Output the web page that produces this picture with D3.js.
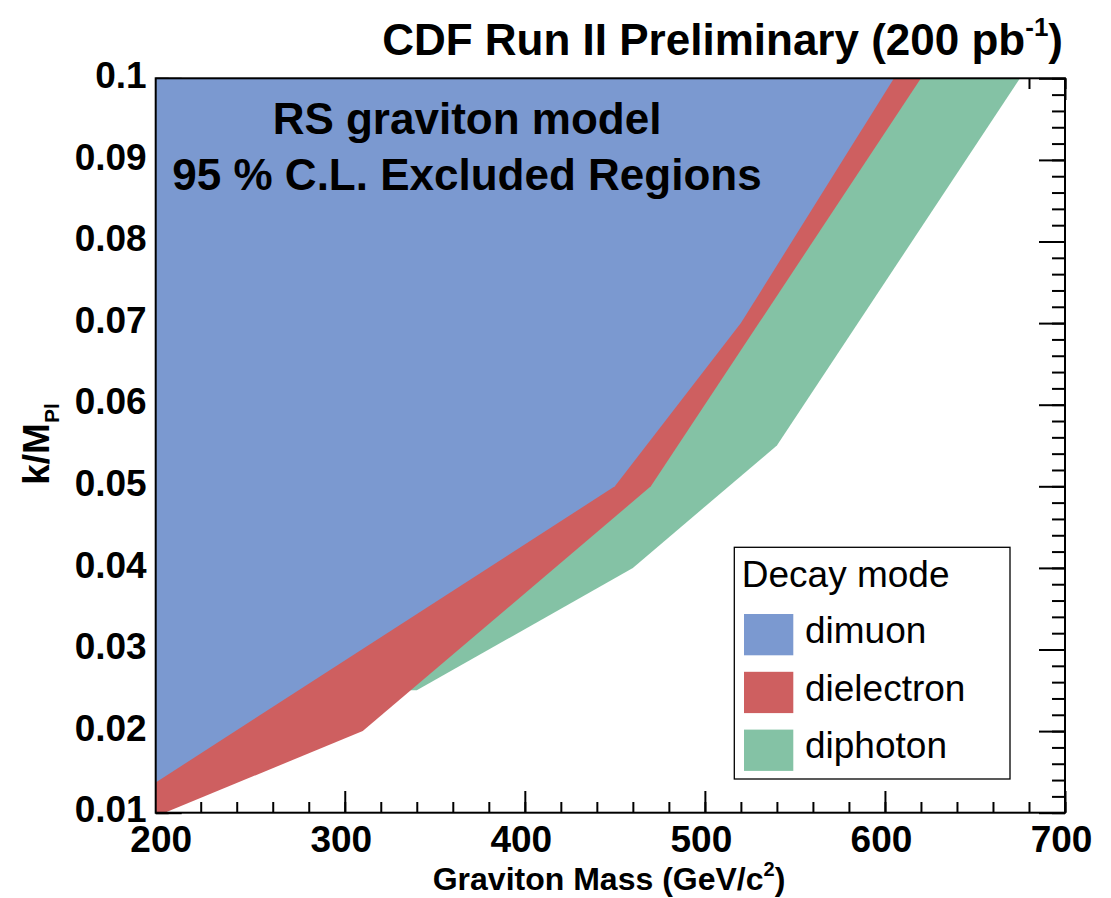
<!DOCTYPE html>
<html>
<head>
<meta charset="utf-8">
<script src="https://cdn.jsdelivr.net/npm/d3@7"></script>
<style>
  body { margin: 0; background: #fff; }
  svg { display: block; }
  text { font-family: "Liberation Sans", Arial, Helvetica, sans-serif; fill: #000; }
</style>
</head>
<body>
<svg id="chart" width="1111" height="898"></svg>
<script>
// Axis ranges and tick labels
const massRange = [195, 700];
const kRange = [0.01, 0.1];
const massTicks = [200, 300, 400, 500, 600, 700];
const massMinorTicks = d3.range(10, 36).map(i => i * 20);          // 200 ... 700 step 20
const kTicks = [0.01, 0.02, 0.03, 0.04, 0.05, 0.06, 0.07, 0.08, 0.09, 0.1];
const kTickLabels = ["0.01", "0.02", "0.03", "0.04", "0.05", "0.06", "0.07", "0.08", "0.09", "0.1"];
const kMinorTicks = d3.range(5, 51).map(i => +(i * 0.002).toFixed(3)); // 0.01 ... 0.1 step 0.002

// 95% C.L. exclusion contours (graviton mass in GeV/c^2, coupling k/M_Pl)
const seriesNames = ["dimuon", "dielectron", "diphoton"];
const seriesColors = ["#7b99d0", "#ce5f60", "#84c2a5"];
const dimuonMass = [195, 450, 520, 605];
const dimuonK = [0.0137, 0.05, 0.07, 0.1];
const dielectronMass = [200, 310, 470, 530, 620];
const dielectronK = [0.01, 0.02, 0.05, 0.07, 0.1];
const diphotonMass = [340, 460, 540, 675];
const diphotonK = [0.025, 0.04, 0.055, 0.1];

const contours = [
  { name: seriesNames[0], color: seriesColors[0], mass: dimuonMass, k: dimuonK },
  { name: seriesNames[1], color: seriesColors[1], mass: dielectronMass, k: dielectronK },
  { name: seriesNames[2], color: seriesColors[2], mass: diphotonMass, k: diphotonK }
];

const frame = { left: 155.7, right: 1065, top: 78.3, bottom: 812.7 };
const svg = d3.select("#chart");

const x = d3.scaleLinear().domain(massRange).range([frame.left, frame.right]);
const y = d3.scaleLinear().domain(kRange).range([frame.bottom, frame.top]);

const FONT = '"Liberation Sans", Arial, Helvetica, sans-serif';

// ---- ticks (drawn first, fills cover them where the regions lie) ----
function styleAxis(g) {
  g.select(".domain").remove();
  g.selectAll(".tick line").attr("stroke", "#000").attr("stroke-width", 2);
}

// bottom
svg.append("g").attr("transform", `translate(0,${frame.bottom})`)
  .call(d3.axisBottom(x).tickValues(massMinorTicks).tickSize(-10.7).tickFormat(""))
  .call(styleAxis);
const xAxisG = svg.append("g").attr("transform", `translate(0,${frame.bottom})`)
  .call(d3.axisBottom(x).tickValues(massTicks).tickSize(-21.7).tickPadding(13.5).tickFormat(d3.format("d")))
  .call(styleAxis);
xAxisG.selectAll(".tick text")
  .attr("x", -4)
  .style("font-family", FONT).style("font-weight", "bold").style("font-size", "37px");

// top
svg.append("g").attr("transform", `translate(0,${frame.top})`)
  .call(d3.axisTop(x).tickValues(massMinorTicks).tickSize(-10.7).tickFormat(""))
  .call(styleAxis);
svg.append("g").attr("transform", `translate(0,${frame.top})`)
  .call(d3.axisTop(x).tickValues(massTicks).tickSize(-21.7).tickFormat(""))
  .call(styleAxis);

// left
svg.append("g").attr("transform", `translate(${frame.left},0)`)
  .call(d3.axisLeft(y).tickValues(kMinorTicks).tickSize(-13).tickFormat(""))
  .call(styleAxis);
const yAxisG = svg.append("g").attr("transform", `translate(${frame.left},0)`)
  .call(d3.axisLeft(y).tickValues(kTicks).tickSize(-26).tickPadding(9)
    .tickFormat((d, i) => kTickLabels[i]))
  .call(styleAxis);
yAxisG.selectAll(".tick text")
  .attr("dy", "0.25em")
  .style("font-family", FONT).style("font-weight", "bold").style("font-size", "37px");

// right
svg.append("g").attr("transform", `translate(${frame.right},0)`)
  .call(d3.axisRight(y).tickValues(kMinorTicks).tickSize(-13).tickFormat(""))
  .call(styleAxis);
svg.append("g").attr("transform", `translate(${frame.right},0)`)
  .call(d3.axisRight(y).tickValues(kTicks).tickSize(-26).tickFormat(""))
  .call(styleAxis);

// ---- excluded regions ----
svg.append("clipPath").attr("id", "frameClip")
  .append("rect")
  .attr("x", frame.left).attr("y", frame.top)
  .attr("width", frame.right - frame.left).attr("height", frame.bottom - frame.top);

const area = d3.line().x(d => x(d[0])).y(d => y(d[1]));

// each contour is closed through the top-left corner of the frame
const regionG = svg.append("g").attr("clip-path", "url(#frameClip)");
contours.slice().reverse().forEach(c => {
  const pts = c.mass.map((m, i) => [m, c.k[i]]);
  pts.push([massRange[0], kRange[1]]);
  pts.push([massRange[0], c.k[0]]);
  regionG.append("path")
    .attr("d", area(pts) + "Z")
    .attr("fill", c.color)
    .attr("stroke", "none");
});

// frame outline
svg.append("rect")
  .attr("x", frame.left).attr("y", frame.top)
  .attr("width", frame.right - frame.left).attr("height", frame.bottom - frame.top)
  .attr("fill", "none").attr("stroke", "#000").attr("stroke-width", 2);

// ---- titles ----
const title = svg.append("text")
  .attr("x", 1063).attr("y", 55)
  .attr("text-anchor", "end")
  .style("font-weight", "bold").style("font-size", "44px");
title.append("tspan").text("CDF Run II Preliminary (200 pb");
title.append("tspan").attr("dy", -19).style("font-size", "26px").text("-1");
title.append("tspan").attr("dy", 19).text(")");

const xTitle = svg.append("text")
  .attr("x", 609).attr("y", 890)
  .attr("text-anchor", "middle")
  .style("font-weight", "bold").style("font-size", "32px");
xTitle.append("tspan").text("Graviton Mass (GeV/c");
xTitle.append("tspan").attr("dy", -14).style("font-size", "20px").text("2");
xTitle.append("tspan").attr("dy", 14).text(")");

const yTitle = svg.append("text")
  .attr("transform", "translate(49,444) rotate(-90)")
  .attr("text-anchor", "middle")
  .style("font-weight", "bold").style("font-size", "37px");
yTitle.append("tspan").text("k/M");
yTitle.append("tspan").attr("dy", 10).style("font-size", "21px").text("Pl");

// annotation
svg.append("text")
  .attr("x", 467).attr("y", 134)
  .attr("text-anchor", "middle")
  .style("font-weight", "bold").style("font-size", "44px")
  .text("RS graviton model");
svg.append("text")
  .attr("x", 467).attr("y", 190)
  .attr("text-anchor", "middle")
  .style("font-weight", "bold").style("font-size", "44px")
  .text("95 % C.L. Excluded Regions");

// ---- legend ----
const legend = svg.append("g").attr("transform", "translate(734.3,547.3)");
legend.append("rect")
  .attr("width", 275.7).attr("height", 231.7)
  .attr("fill", "#fff").attr("stroke", "#000").attr("stroke-width", 1.3);
legend.append("text")
  .attr("x", 7.5).attr("y", 40)
  .style("font-size", "37px")
  .text("Decay mode");
contours.forEach((c, i) => {
  const row = legend.append("g").attr("transform", `translate(0,${66.7 + i * 57.8})`);
  row.append("rect")
    .attr("x", 9.7).attr("y", 0)
    .attr("width", 49.3).attr("height", 41.3)
    .attr("fill", c.color);
  row.append("text")
    .attr("x", 70.7).attr("y", 28.7)
    .style("font-size", "37px")
    .text(c.name);
});
</script>
</body>
</html>
